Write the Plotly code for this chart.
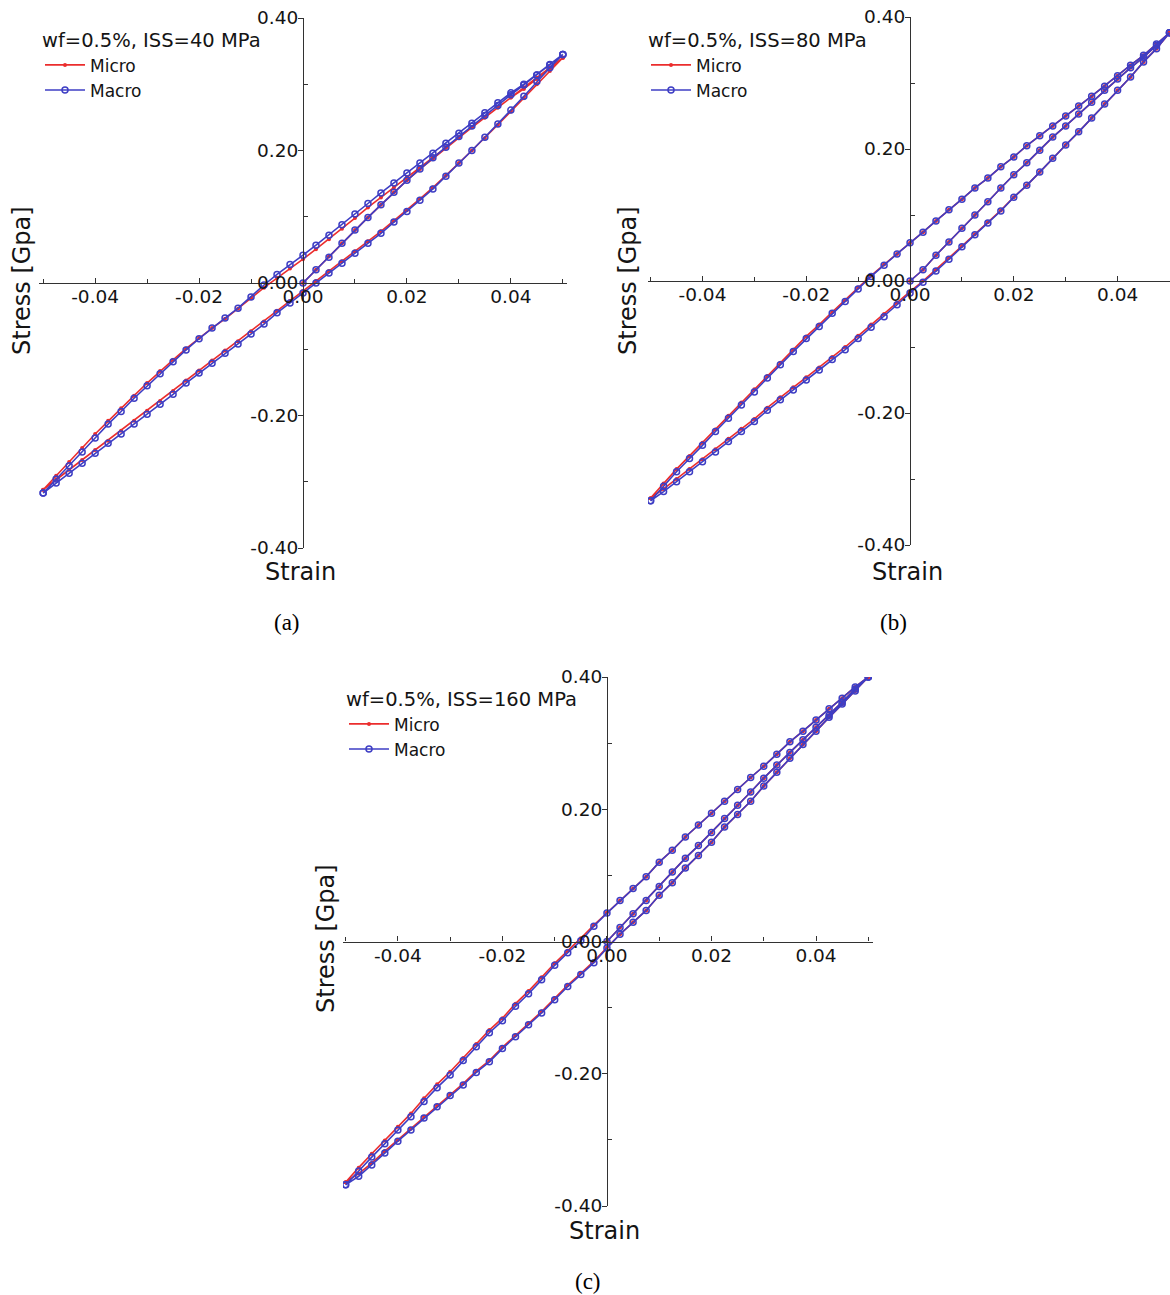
import plotly.graph_objects as go

W, H = 1170, 1295

# ---------------- data (strain steps along the load path) ----------------
STRAIN_LOAD = [0.0, 0.0025, 0.005, 0.0075, 0.01, 0.0125, 0.015, 0.0175, 0.02, 0.0225, 0.025,
               0.0275, 0.03, 0.0325, 0.035, 0.0375, 0.04, 0.0425, 0.045, 0.0475, 0.05]
STRAIN_UNLOAD = [0.05, 0.0475, 0.045, 0.0425, 0.04, 0.0375, 0.035, 0.0325, 0.03, 0.0275, 0.025,
                 0.0225, 0.02, 0.0175, 0.015, 0.0125, 0.01, 0.0075, 0.005, 0.0025, 0.0,
                 -0.0025, -0.005, -0.0075, -0.01, -0.0125, -0.015, -0.0175, -0.02, -0.0225, -0.025,
                 -0.0275, -0.03, -0.0325, -0.035, -0.0375, -0.04, -0.0425, -0.045, -0.0475, -0.05]
STRAIN_RELOAD = [-0.05, -0.0475, -0.045, -0.0425, -0.04, -0.0375, -0.035, -0.0325, -0.03, -0.0275, -0.025,
                 -0.0225, -0.02, -0.0175, -0.015, -0.0125, -0.01, -0.0075, -0.005, -0.0025, 0.0,
                 0.0025, 0.005, 0.0075, 0.01, 0.0125, 0.015, 0.0175, 0.02, 0.0225, 0.025,
                 0.0275, 0.03, 0.0325, 0.035, 0.0375, 0.04, 0.0425, 0.045, 0.0475, 0.05]

# (a) ISS = 40 MPa
A_MACRO_LOAD = [0.000, 0.020, 0.039, 0.060, 0.080, 0.099, 0.118, 0.137, 0.155, 0.172, 0.189,
                0.205, 0.221, 0.237, 0.253, 0.268, 0.284, 0.299, 0.314, 0.330, 0.345]
A_MACRO_UNLOAD = [0.345, 0.329, 0.314, 0.300, 0.287, 0.272, 0.257, 0.241, 0.226, 0.211, 0.196,
                  0.181, 0.166, 0.151, 0.136, 0.120, 0.104, 0.088, 0.072, 0.057, 0.042,
                  0.028, 0.013, -0.003, -0.021, -0.038, -0.053, -0.068, -0.084, -0.101, -0.119,
                  -0.137, -0.155, -0.174, -0.194, -0.213, -0.234, -0.255, -0.276, -0.296, -0.317]
A_MACRO_RELOAD = [-0.317, -0.302, -0.287, -0.272, -0.257, -0.242, -0.228, -0.213, -0.198, -0.183, -0.168,
                  -0.151, -0.136, -0.121, -0.106, -0.092, -0.077, -0.062, -0.045, -0.030, -0.015,
                  0.000, 0.015, 0.030, 0.045, 0.060, 0.075, 0.092, 0.108, 0.125, 0.142,
                  0.161, 0.181, 0.200, 0.220, 0.240, 0.261, 0.282, 0.304, 0.325, 0.345]
A_MICRO_LOAD = [0.000, 0.020, 0.040, 0.060, 0.080, 0.099, 0.118, 0.137, 0.155, 0.172, 0.188,
                0.204, 0.220, 0.235, 0.250, 0.265, 0.280, 0.295, 0.310, 0.325, 0.340]
A_MICRO_UNLOAD = [0.340, 0.324, 0.308, 0.293, 0.280, 0.265, 0.250, 0.235, 0.220, 0.205, 0.190,
                  0.175, 0.160, 0.144, 0.129, 0.114, 0.098, 0.082, 0.066, 0.051, 0.036,
                  0.022, 0.008, -0.007, -0.023, -0.039, -0.054, -0.068, -0.083, -0.099, -0.116,
                  -0.133, -0.151, -0.170, -0.189, -0.208, -0.228, -0.249, -0.270, -0.291, -0.312]
A_MICRO_RELOAD = [-0.312, -0.297, -0.282, -0.267, -0.252, -0.238, -0.223, -0.208, -0.193, -0.178, -0.163,
                  -0.147, -0.132, -0.117, -0.102, -0.088, -0.073, -0.058, -0.042, -0.027, -0.012,
                  0.003, 0.018, 0.033, 0.048, 0.063, 0.078, 0.094, 0.110, 0.127, 0.144,
                  0.162, 0.181, 0.200, 0.219, 0.239, 0.259, 0.279, 0.300, 0.320, 0.340]

# (b) ISS = 80 MPa
B_MACRO_LOAD = [0.000, 0.017, 0.039, 0.059, 0.080, 0.100, 0.120, 0.141, 0.161, 0.179, 0.198,
                0.218, 0.235, 0.253, 0.271, 0.289, 0.306, 0.323, 0.339, 0.357, 0.376]
B_MACRO_UNLOAD = [0.376, 0.359, 0.342, 0.327, 0.311, 0.295, 0.280, 0.265, 0.250, 0.235, 0.220,
                  0.205, 0.188, 0.173, 0.156, 0.141, 0.124, 0.108, 0.091, 0.074, 0.058,
                  0.041, 0.024, 0.007, -0.012, -0.031, -0.049, -0.069, -0.087, -0.107, -0.127,
                  -0.147, -0.168, -0.188, -0.208, -0.228, -0.249, -0.269, -0.289, -0.311, -0.333]
B_MACRO_RELOAD = [-0.333, -0.319, -0.304, -0.289, -0.274, -0.259, -0.243, -0.228, -0.213, -0.196, -0.180,
                  -0.165, -0.150, -0.135, -0.119, -0.104, -0.087, -0.070, -0.054, -0.036, -0.018,
                  -0.002, 0.015, 0.033, 0.052, 0.070, 0.088, 0.106, 0.127, 0.145, 0.165,
                  0.186, 0.206, 0.226, 0.247, 0.268, 0.289, 0.309, 0.332, 0.352, 0.376]
B_MICRO_LOAD = [0.000, 0.017, 0.039, 0.059, 0.080, 0.100, 0.120, 0.141, 0.161, 0.179, 0.198,
                0.218, 0.235, 0.253, 0.271, 0.289, 0.306, 0.323, 0.339, 0.357, 0.376]
B_MICRO_UNLOAD = [0.376, 0.359, 0.342, 0.327, 0.311, 0.295, 0.280, 0.265, 0.250, 0.235, 0.220,
                  0.205, 0.188, 0.173, 0.156, 0.141, 0.124, 0.108, 0.091, 0.074, 0.058,
                  0.041, 0.025, 0.008, -0.010, -0.029, -0.047, -0.066, -0.084, -0.104, -0.124,
                  -0.144, -0.164, -0.184, -0.204, -0.225, -0.245, -0.265, -0.285, -0.307, -0.329]
B_MICRO_RELOAD = [-0.329, -0.315, -0.300, -0.285, -0.270, -0.255, -0.239, -0.224, -0.209, -0.192, -0.176,
                  -0.161, -0.146, -0.131, -0.115, -0.100, -0.083, -0.066, -0.050, -0.033, -0.016,
                  0.000, 0.017, 0.035, 0.053, 0.071, 0.089, 0.107, 0.127, 0.145, 0.165,
                  0.186, 0.206, 0.226, 0.247, 0.268, 0.289, 0.309, 0.332, 0.352, 0.376]

# (c) ISS = 160 MPa
C_MACRO_LOAD = [0.000, 0.021, 0.042, 0.062, 0.083, 0.105, 0.126, 0.145, 0.165, 0.186, 0.206,
                0.226, 0.247, 0.267, 0.286, 0.305, 0.324, 0.342, 0.362, 0.382, 0.400]
C_MACRO_UNLOAD = [0.400, 0.385, 0.368, 0.352, 0.335, 0.318, 0.302, 0.283, 0.265, 0.248, 0.230,
                  0.212, 0.194, 0.176, 0.158, 0.138, 0.120, 0.098, 0.080, 0.062, 0.043,
                  0.023, 0.001, -0.017, -0.036, -0.058, -0.079, -0.098, -0.120, -0.138, -0.159,
                  -0.180, -0.202, -0.221, -0.242, -0.265, -0.285, -0.306, -0.326, -0.347, -0.368]
C_MACRO_RELOAD = [-0.368, -0.355, -0.338, -0.320, -0.302, -0.285, -0.267, -0.250, -0.233, -0.217, -0.198,
                  -0.182, -0.162, -0.144, -0.126, -0.108, -0.088, -0.068, -0.050, -0.032, -0.010,
                  0.011, 0.029, 0.047, 0.070, 0.089, 0.111, 0.130, 0.150, 0.173, 0.192,
                  0.212, 0.235, 0.256, 0.277, 0.298, 0.318, 0.339, 0.359, 0.379, 0.400]
C_MICRO_LOAD = [0.000, 0.021, 0.042, 0.062, 0.083, 0.105, 0.126, 0.145, 0.165, 0.186, 0.206,
                0.226, 0.247, 0.267, 0.286, 0.305, 0.324, 0.342, 0.362, 0.382, 0.400]
C_MICRO_UNLOAD = [0.400, 0.385, 0.368, 0.352, 0.335, 0.318, 0.302, 0.283, 0.265, 0.248, 0.230,
                  0.212, 0.194, 0.176, 0.158, 0.138, 0.120, 0.098, 0.080, 0.062, 0.044,
                  0.025, 0.005, -0.014, -0.033, -0.054, -0.075, -0.094, -0.116, -0.134, -0.155,
                  -0.176, -0.197, -0.216, -0.237, -0.260, -0.280, -0.301, -0.321, -0.342, -0.364]
C_MICRO_RELOAD = [-0.364, -0.351, -0.335, -0.317, -0.300, -0.283, -0.265, -0.248, -0.231, -0.215, -0.196,
                  -0.180, -0.160, -0.142, -0.124, -0.106, -0.086, -0.066, -0.048, -0.030, -0.009,
                  0.011, 0.029, 0.047, 0.070, 0.089, 0.111, 0.130, 0.150, 0.173, 0.192,
                  0.212, 0.235, 0.256, 0.277, 0.298, 0.318, 0.339, 0.359, 0.379, 0.400]

LEGEND_TITLES = ["wf=0.5%, ISS=40 MPa", "wf=0.5%, ISS=80 MPa", "wf=0.5%, ISS=160 MPa"]
SERIES_NAMES = ["Micro", "Macro"]
CAPTIONS = ["(a)", "(b)", "(c)"]
X_TICKS = [-0.04, -0.02, 0.0, 0.02, 0.04]
X_TICK_LABELS = ["-0.04", "-0.02", "0.00", "0.02", "0.04"]
X_MINOR = [-0.05, -0.03, -0.01, 0.01, 0.03, 0.05]
Y_TICKS = [-0.4, -0.2, 0.0, 0.2, 0.4]
Y_TICK_LABELS = ["-0.40", "-0.20", "0.00", "0.20", "0.40"]
Y_MINOR = [-0.3, -0.1, 0.1, 0.3]
X_TITLE = "Strain"
Y_TITLE = "Stress [Gpa]"

# ---------------- layout geometry (pixels) ----------------
def fx(px):
    return px / W


def fy(py):
    return 1 - py / H


panels = [
    dict(micro=(A_MICRO_LOAD, A_MICRO_UNLOAD, A_MICRO_RELOAD),
         macro=(A_MACRO_LOAD, A_MACRO_UNLOAD, A_MACRO_RELOAD),
         xpix=(39, 567), xrange=[-0.0508, 0.0508], x0=303,
         ypix=(18, 548), y0=283,
         legend=(40, 22), ytitle=(22, 281), xtitle=(300, 572), caption=(287, 622)),
    dict(micro=(B_MICRO_LOAD, B_MICRO_UNLOAD, B_MICRO_RELOAD),
         macro=(B_MACRO_LOAD, B_MACRO_UNLOAD, B_MACRO_RELOAD),
         xpix=(648, 1170), xrange=[-0.0505, 0.0501], x0=910,
         ypix=(17, 545), y0=281,
         legend=(646, 22), ytitle=(628, 281), xtitle=(907, 572), caption=(893, 622)),
    dict(micro=(C_MICRO_LOAD, C_MICRO_UNLOAD, C_MICRO_RELOAD),
         macro=(C_MACRO_LOAD, C_MACRO_UNLOAD, C_MACRO_RELOAD),
         xpix=(343, 873), xrange=[-0.0505, 0.0509], x0=607,
         ypix=(677, 1206), y0=941.5,
         legend=(344, 681), ytitle=(326, 939), xtitle=(604, 1231), caption=(588, 1281)),
]

STRAIN_PATH = STRAIN_LOAD + STRAIN_UNLOAD + STRAIN_RELOAD

RED = "rgb(235,45,45)"
BLUE = "rgb(62,62,196)"
AX = "rgb(50,50,50)"
TXT = "rgb(20,20,20)"
TICKFONT = dict(family="DejaVu Sans", size=18.5, color=TXT)

fig = go.Figure()
layout = dict(
    width=W, height=H,
    margin=dict(l=0, r=0, t=0, b=0, autoexpand=False),
    paper_bgcolor="white", plot_bgcolor="rgba(0,0,0,0)",
    showlegend=True,
    annotations=[],
)

for i, p in enumerate(panels):
    n = "" if i == 0 else str(i + 1)
    xa, ya = "x" + n, "y" + n
    leg = "legend" + n
    micro = p["micro"][0] + p["micro"][1] + p["micro"][2]
    macro = p["macro"][0] + p["macro"][1] + p["macro"][2]
    fig.add_trace(go.Scatter(
        x=STRAIN_PATH, y=micro, name=SERIES_NAMES[0], mode="lines+markers",
        line=dict(color=RED, width=1.6),
        marker=dict(color=RED, size=4, symbol="circle"),
        xaxis=xa, yaxis=ya, legend=leg,
    ))
    fig.add_trace(go.Scatter(
        x=STRAIN_PATH, y=macro, name=SERIES_NAMES[1], mode="lines+markers",
        line=dict(color=BLUE, width=1.6),
        marker=dict(color=BLUE, size=6, symbol="circle-open",
                    line=dict(color=BLUE, width=1.5)),
        xaxis=xa, yaxis=ya, legend=leg,
    ))

    xl, xr = p["xpix"]
    yt, yb = p["ypix"]
    layout["xaxis" + n] = dict(
        domain=[fx(xl), fx(xr)], range=p["xrange"], anchor="free",
        position=fy(p["y0"]), side="bottom", automargin=False,
        showline=True, linecolor=AX, linewidth=1.2,
        showgrid=False, zeroline=False,
        tickmode="array", tickvals=X_TICKS, ticktext=X_TICK_LABELS,
        ticks="inside", ticklen=5, tickcolor=AX, tickwidth=1.2,
        ticklabelstandoff=-3,
        minor=dict(tickmode="array", tickvals=X_MINOR, ticks="inside",
                   ticklen=4, tickcolor=AX, tickwidth=1),
        tickfont=TICKFONT, fixedrange=True,
    )
    layout["yaxis" + n] = dict(
        domain=[fy(yb), fy(yt)], range=[-0.4, 0.4], anchor="free",
        position=fx(p["x0"]), side="left", automargin=False,
        showline=True, linecolor=AX, linewidth=1.2,
        showgrid=False, zeroline=False,
        tickmode="array", tickvals=Y_TICKS, ticktext=Y_TICK_LABELS,
        ticks="outside", ticklen=5, tickcolor=AX, tickwidth=1.2,
        ticklabelstandoff=-4,
        minor=dict(tickmode="array", tickvals=Y_MINOR, ticks="inside",
                   ticklen=4, tickcolor=AX, tickwidth=1),
        tickfont=TICKFONT, fixedrange=True,
    )
    lx, ly = p["legend"]
    layout[leg] = dict(
        x=fx(lx), y=fy(ly), xanchor="left", yanchor="top",
        bgcolor="rgba(0,0,0,0)", borderwidth=0,
        font=dict(family="DejaVu Sans", size=17, color=TXT),
        title=dict(text=LEGEND_TITLES[i],
                   font=dict(family="DejaVu Sans", size=19.5, color=TXT)),
        itemwidth=40, tracegroupgap=0,
    )
    tx, ty = p["ytitle"]
    layout["annotations"].append(dict(
        text=Y_TITLE, x=fx(tx), y=fy(ty), xref="paper", yref="paper",
        showarrow=False, textangle=-90, xanchor="center", yanchor="middle",
        font=dict(family="DejaVu Sans", size=24, color=TXT)))
    sx, sy = p["xtitle"]
    layout["annotations"].append(dict(
        text=X_TITLE, x=fx(sx), y=fy(sy), xref="paper", yref="paper",
        showarrow=False, xanchor="center", yanchor="middle",
        font=dict(family="DejaVu Sans", size=24, color=TXT)))
    cx, cy = p["caption"]
    layout["annotations"].append(dict(
        text=CAPTIONS[i], x=fx(cx), y=fy(cy), xref="paper", yref="paper",
        showarrow=False, xanchor="center", yanchor="middle",
        font=dict(family="Liberation Serif", size=23, color="black")))

fig.update_layout(**layout)
fig.write_html("out.html")
